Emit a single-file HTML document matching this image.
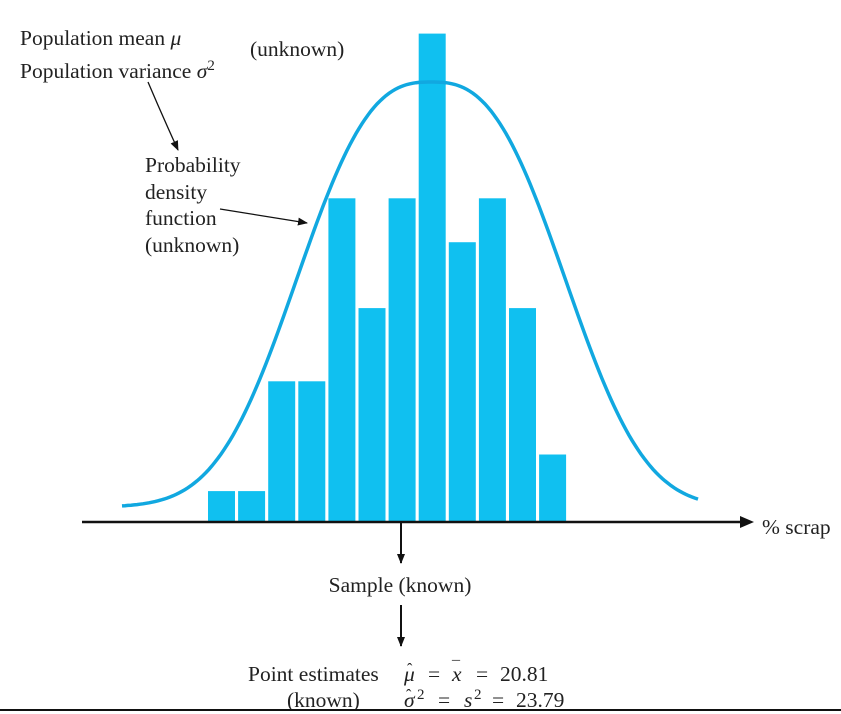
<!DOCTYPE html>
<html><head><meta charset="utf-8"><style>
body{margin:0;background:#fff}
svg{display:block}
text{font-family:"Liberation Serif",serif;font-size:21.5px;fill:#222}
</style></head><body>
<svg id="chart" width="841" height="714" viewBox="0 0 841 714">
<defs><marker id="ah" markerWidth="10" markerHeight="10" refX="9" refY="5" orient="auto" markerUnits="userSpaceOnUse"><path d="M0,1 L10,5 L0,9 Z" fill="#111"/></marker></defs>
<g id="bars"></g>
<path id="curve" fill="none" stroke="#11a8e0" stroke-width="3.5"/>
<line x1="82" y1="522" x2="745" y2="522" stroke="#111" stroke-width="2.5"/>
<path d="M740,516 L754,522 L740,528 Z" fill="#111"/>
<text x="762" y="534">% scrap</text>
<line x1="401" y1="522" x2="401" y2="563" stroke="#111" stroke-width="2" marker-end="url(#ah)"/>
<text x="400" y="592" text-anchor="middle">Sample (known)</text>
<line x1="401" y1="605" x2="401" y2="646" stroke="#111" stroke-width="2" marker-end="url(#ah)"/>
<text x="20" y="45">Population mean <tspan font-style="italic">μ</tspan></text>
<text x="20" y="78">Population variance <tspan font-style="italic">σ</tspan><tspan dy="-8" style="font-size:15px">2</tspan></text>
<text x="250" y="56">(unknown)</text>
<path d="M148,82 Q162,115 178,150" fill="none" stroke="#111" stroke-width="1.3" marker-end="url(#ah)"/>
<text x="145" y="172">Probability</text>
<text x="145" y="199">density</text>
<text x="145" y="225">function</text>
<text x="145" y="252">(unknown)</text>
<path d="M220,209 L307,223" fill="none" stroke="#111" stroke-width="1.3" marker-end="url(#ah)"/>
<text x="248" y="681">Point estimates</text>
<text x="287" y="707">(known)</text>
<g>
<text x="404" y="681" font-style="italic">μ</text><text x="407" y="674" style="font-size:16px">ˆ</text>
<text x="428" y="681">=</text>
<text x="452" y="681" font-style="italic">x</text><text x="452" y="672" style="font-size:16px">¯</text>
<text x="476" y="681">=</text>
<text x="500" y="681">20.81</text>
</g>
<g>
<text x="404" y="707" font-style="italic">σ</text><text x="406" y="700" style="font-size:16px">ˆ</text>
<text x="417" y="699" style="font-size:15px">2</text>
<text x="438" y="707">=</text>
<text x="464" y="707" font-style="italic">s</text><text x="474" y="699" style="font-size:15px">2</text>
<text x="492" y="707">=</text>
<text x="516" y="707">23.79</text>
</g>
<rect x="0" y="709" width="841" height="5" fill="#fff"/>
<line x1="0" y1="710" x2="841" y2="710" stroke="#111" stroke-width="2"/>
</svg>
<script>
const binIndex = [0,1,2,3,4,5,6,7,8,9,10,11];
const counts = [1,1,4,4,9,6,9,13.5,7.8,9,6,2];
const curveMeanPct = 20.81;
const curvePeak = 425;

const x0 = 208, pitch = 30.1, barW = 27, base = 522;
const unit = 36.6, off = -5.7;
function xScale(i){ return x0 + i*pitch; }
function yScale(v){ return base - (v*unit + off); }
const g = document.getElementById('bars');
binIndex.forEach((b,i)=>{
  const r = document.createElementNS('http://www.w3.org/2000/svg','rect');
  
  
  r.setAttribute('x', xScale(b));
  r.setAttribute('width', barW);
  r.setAttribute('y', yScale(counts[i]));
  r.setAttribute('height', base - yScale(counts[i]));
  r.setAttribute('fill', '#10c0f0');
  g.appendChild(r);
});
const cx = 431 + (curveMeanPct - 20.81)*30, cBase = 507, d0 = 160;
let d = '';
for (let x = 122; x <= 699; x += 3) {
  const z = Math.abs(x - cx)/d0;
  const y = cBase - curvePeak*Math.exp(-Math.pow(z,2.7));
  d += (d ? 'L' : 'M') + x + ',' + y.toFixed(1);
}
document.getElementById('curve').setAttribute('d', d);
</script>
</body></html>
